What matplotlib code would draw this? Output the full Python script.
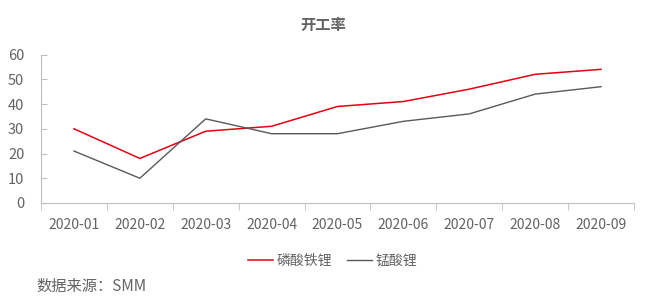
import matplotlib
matplotlib.use('Agg')
from matplotlib import pyplot as plt

plt.rcParams['font.family'] = ['Noto Sans CJK SC', 'DejaVu Sans']

months = ['2020-01', '2020-02', '2020-03', '2020-04', '2020-05',
          '2020-06', '2020-07', '2020-08', '2020-09']
lfp = [30, 18, 29, 31, 39, 41, 46, 52, 54]
lmo = [21, 10, 34, 28, 28, 33, 36, 44, 47]
series_names = ['磷酸铁锂', '锰酸锂']

text_color = '#636363'
axis_color = '#bfbfbf'

figure = plt.figure(figsize=(6.49, 3.02), dpi=100)
axes = figure.add_axes([41 / 649, 99 / 302, 593 / 649, 148.5 / 302])

x = range(len(months))
axes.plot(x, lfp, color='#e60012', linewidth=1.1, label=series_names[0])
axes.plot(x, lmo, color='#595959', linewidth=1.0, label=series_names[1])

axes.set_xlim(-0.5, len(months) - 0.5)
axes.set_ylim(0, 60)
axes.set_yticks(range(0, 61, 10))
axes.set_xticks(list(x))
axes.set_xticklabels(months)
axes.set_xticks([i - 0.5 for i in range(len(months) + 1)], minor=True)
axes.tick_params(axis='x', which='major', length=0, pad=11, labelsize=10, labelcolor=text_color)
axes.tick_params(axis='x', which='minor', length=5, color=axis_color, direction='out')
axes.tick_params(axis='y', length=4, direction='in', color=axis_color, pad=12,
                 labelsize=10.5, labelcolor=text_color)

for side in ('top', 'right'):
    axes.spines[side].set_visible(False)
axes.spines['bottom'].set_color(axis_color)
axes.spines['left'].set_color(axis_color)

figure.text(323 / 649, 1 - 25 / 302, '开工率', ha='center', va='center',
            fontsize=11, fontweight='bold', color=text_color)

figure.legend(loc='center', bbox_to_anchor=(332.5 / 649, 1 - 261 / 302), ncol=2,
              frameon=False, fontsize=10, handlelength=1.8, handletextpad=0.25,
              columnspacing=1.1, labelcolor=text_color)

figure.text(36 / 649, 1 - 286 / 302, '数据来源：SMM', ha='left', va='center',
            fontsize=11, color=text_color)

figure.savefig('out.png', dpi=100)
